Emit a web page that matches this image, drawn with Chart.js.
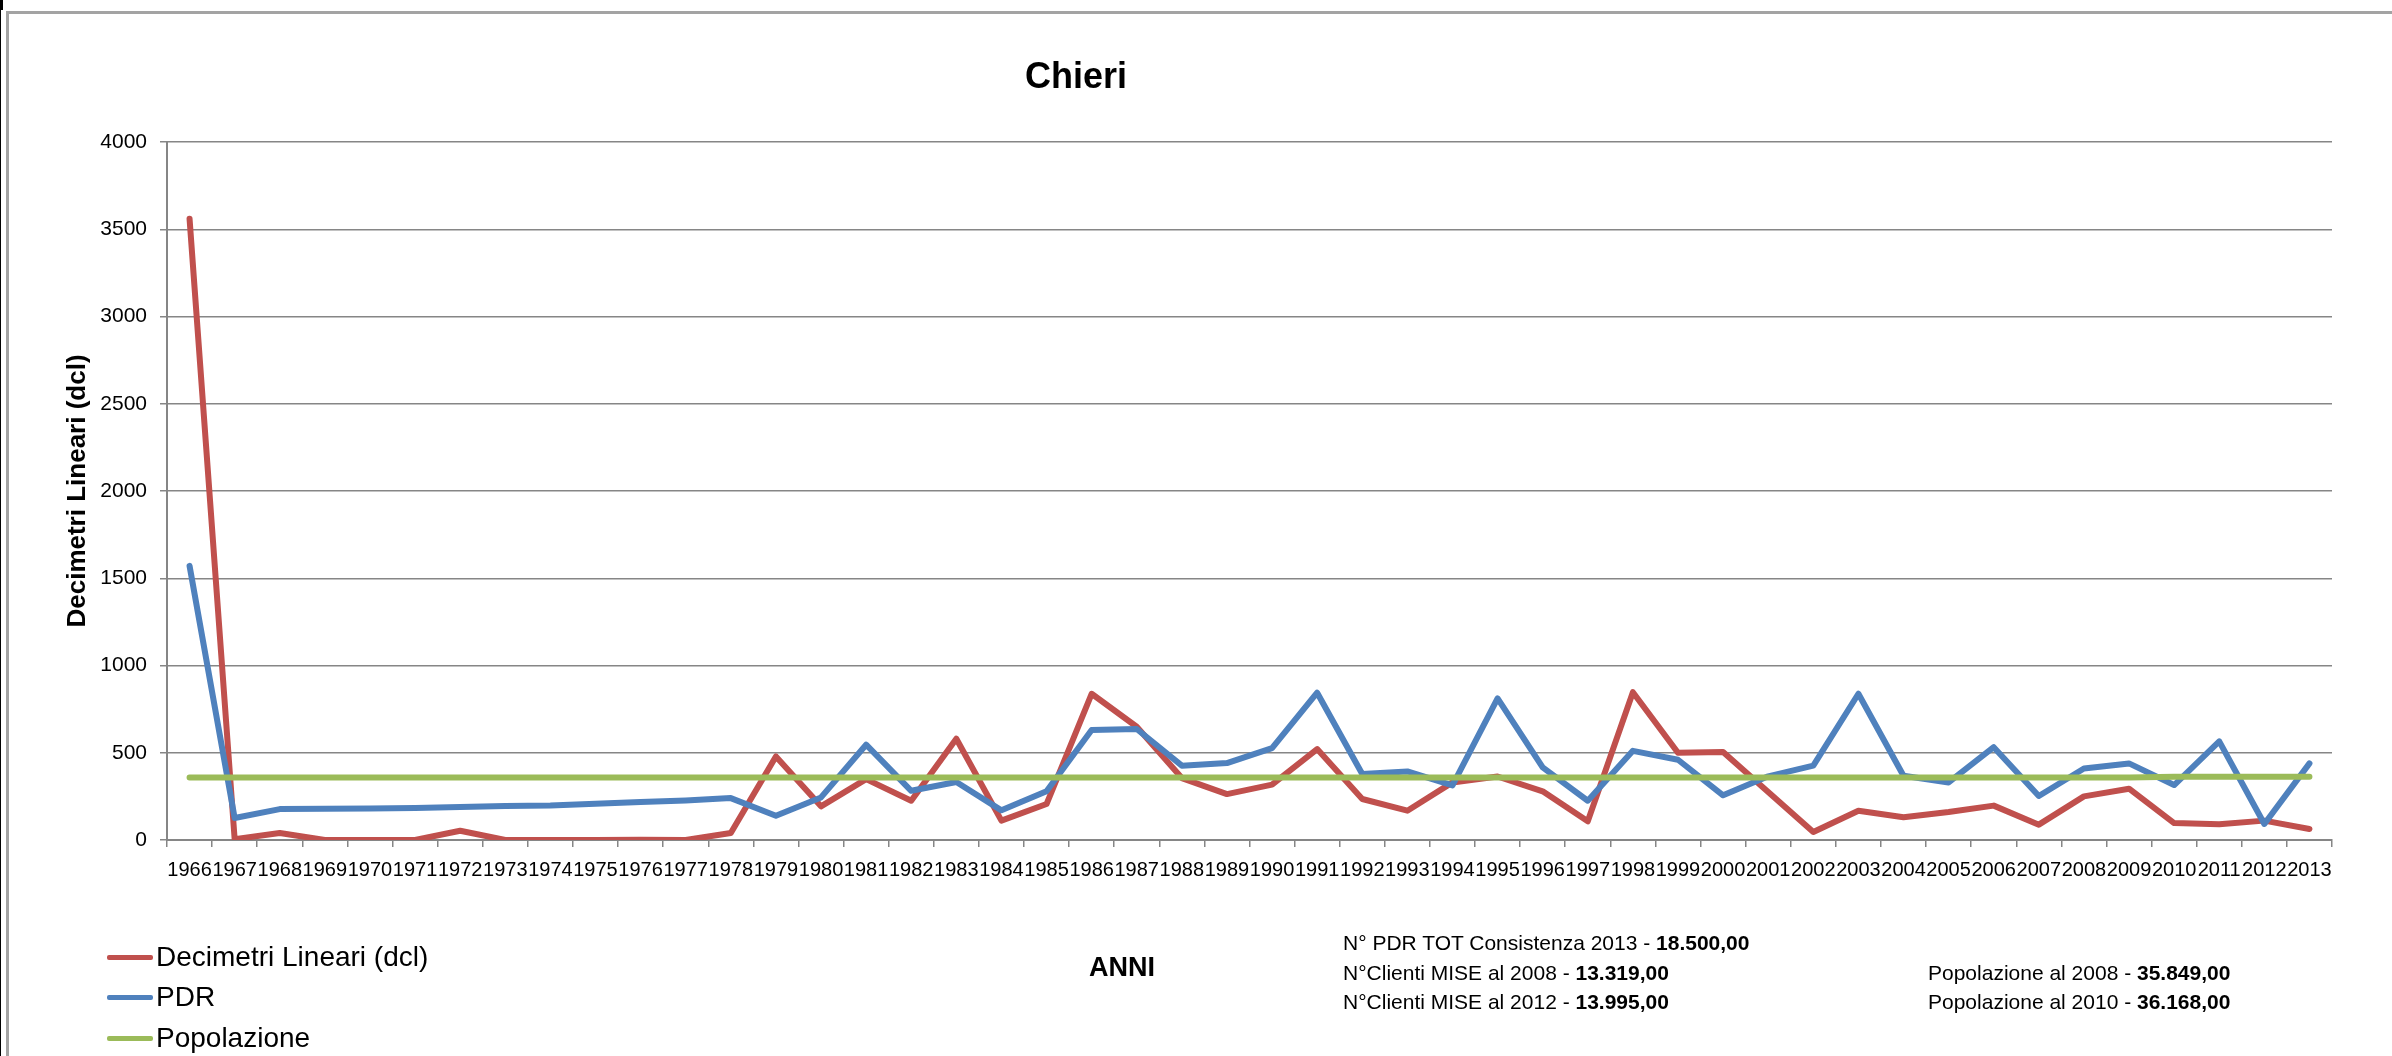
<!DOCTYPE html>
<html>
<head>
<meta charset="utf-8">
<script src="https://cdn.jsdelivr.net/npm/chart.js@4.4.1/dist/chart.umd.min.js"></script>
<style>
  html, body { margin: 0; padding: 0; background: #fff; }
  #wrap { position: relative; width: 2392px; height: 1056px; overflow: hidden; font-family: "Liberation Sans", Arial, sans-serif; color: #000; }
  #c { position: absolute; left: 0; top: 0; }
  .abs { position: absolute; white-space: nowrap; }
  .vc { transform: translateY(-50%); }
  #frameTop { position: absolute; left: 6px; top: 11px; width: 2386px; height: 0; border-top: 3px solid #a3a3a3; }
  #frameLeft { position: absolute; left: 6px; top: 11px; width: 0; height: 1045px; border-left: 3px solid #a3a3a3; }
  #edge { position: absolute; left: 0; top: 0; width: 1px; height: 1056px; background: #000; }
  #edge2 { position: absolute; left: 0; top: 0; width: 3px; height: 10px; background: #000; }
  .leg { position: absolute; left: 107px; height: 0; }
  .leg .sw { position: absolute; left: 0; top: -2px; width: 46px; height: 5px; border-radius: 2px; }
  .leg .tx { position: absolute; left: 49px; top: 0; transform: translateY(-50%); font-size: 28px; white-space: nowrap; }
  .note { font-size: 21px; }
</style>
</head>
<body>
<div id="wrap">
  <canvas id="c" width="2392" height="1056"></canvas>
  <div id="frameTop"></div>
  <div id="frameLeft"></div>
  <div id="edge"></div>
  <div id="edge2"></div>
  <div id="title" class="abs" style="left:1076px; top:76px; transform:translate(-50%,-50%); font-size:36px; font-weight:bold;">Chieri</div>
  <div id="xtitle" class="abs" style="left:1122px; top:967px; transform:translate(-50%,-50%); font-size:27px; font-weight:bold;">ANNI</div>
  <div id="legend"></div>
  <div class="abs vc note" style="left:1343px; top:943px;">N° PDR TOT Consistenza 2013 - <b>18.500,00</b></div>
  <div class="abs vc note" style="left:1343px; top:973px;">N°Clienti MISE al 2008 - <b>13.319,00</b></div>
  <div class="abs vc note" style="left:1343px; top:1002px;">N°Clienti MISE al 2012 - <b>13.995,00</b></div>
  <div class="abs vc note" style="left:1928px; top:973px;">Popolazione al 2008 - <b>35.849,00</b></div>
  <div class="abs vc note" style="left:1928px; top:1002px;">Popolazione al 2010 - <b>36.168,00</b></div>
</div>
<script>
const years = ["1966","1967","1968","1969","1970","1971","1972","1973","1974","1975","1976","1977","1978","1979","1980","1981","1982","1983","1984","1985","1986","1987","1988","1989","1990","1991","1992","1993","1994","1995","1996","1997","1998","1999","2000","2001","2002","2003","2004","2005","2006","2007","2008","2009","2010","2011","2012","2013"];

const decimetri = [3560,5,40,0,0,0,53,0,0,0,2,0,40,479,193,349,225,580,111,206,838,649,355,263,317,521,235,168,330,364,279,107,847,500,504,275,46,168,130,160,197,88,250,294,97,90,111,63];

const pdr = [1571,126,177,179,181,183,189,195,198,208,218,227,240,139,244,546,282,332,170,279,630,636,426,441,527,844,378,393,313,811,416,225,511,460,256,365,426,838,368,330,532,252,410,439,315,565,92,439];

const popolazione = [358,358,358,358,358,358,358,358,358,358,358,358,358,358,358,358,358,358,358,358,358,358,358,358,358,358,358,358,358,358,358,358,358,358,358,358,358,358,358,358,358,358,358,358,362,362,362,362];

const yTicks = [0,500,1000,1500,2000,2500,3000,3500,4000];

const seriesNames = ["Decimetri Lineari (dcl)", "PDR", "Popolazione"];
const seriesColors = ["#C0504D", "#4F81BD", "#9BBB59"];

const FONT = "'Liberation Sans', Arial, sans-serif";
const gridColor = "#868686";

const datasets = [decimetri, pdr, popolazione].map((d, i) => ({
  label: seriesNames[i],
  data: d,
  borderColor: seriesColors[i],
  backgroundColor: seriesColors[i],
  borderWidth: 6,
  pointRadius: 0,
  pointHoverRadius: 0,
  tension: 0,
  fill: false,
  borderJoinStyle: 'round',
  borderCapStyle: 'round',
  order: 2 - i
}));

new Chart(document.getElementById('c'), {
  type: 'line',
  data: { labels: years, datasets: datasets },
  options: {
    responsive: false,
    devicePixelRatio: 1,
    animation: false,
    events: [],
    layout: { padding: { left: 0, right: 60, top: 142, bottom: 156 } },
    plugins: {
      legend: { display: false },
      title: { display: false },
      tooltip: { enabled: false }
    },
    scales: {
      x: {
        type: 'category',
        offset: true,
        grid: { display: true, offset: true, drawOnChartArea: false, drawTicks: true, tickLength: 7, color: gridColor, lineWidth: 1.5 },
        border: { display: true, color: gridColor, width: 2 },
        ticks: { font: { family: FONT, size: 20 }, color: '#000', padding: 11, maxRotation: 0, minRotation: 0, autoSkip: false },
        afterFit: (s) => { s.height = 60; }
      },
      y: {
        min: 0,
        max: 4000,
        afterBuildTicks: (s) => { s.ticks = yTicks.map(v => ({ value: v })); },
        grid: { display: true, drawTicks: true, tickLength: 7, color: gridColor, lineWidth: 1.5 },
        border: { display: true, color: gridColor, width: 2 },
        ticks: { font: { family: FONT, size: 21 }, color: '#000', padding: 13, callback: (v) => String(v) },
        title: { display: true, text: 'Decimetri Lineari (dcl)', font: { family: FONT, size: 26, weight: 'bold' }, color: '#000', padding: { top: 62, bottom: 0 } },
        afterFit: (s) => { s.width = 167; }
      }
    }
  }
});

// HTML legend built from the series definitions
const legendRows = [957, 997, 1038];
const legendEl = document.getElementById('legend');
seriesNames.forEach((name, i) => {
  const row = document.createElement('div');
  row.className = 'leg';
  row.style.top = legendRows[i] + 'px';
  const sw = document.createElement('div');
  sw.className = 'sw';
  sw.style.background = seriesColors[i];
  const tx = document.createElement('div');
  tx.className = 'tx';
  tx.textContent = name;
  row.appendChild(sw);
  row.appendChild(tx);
  legendEl.appendChild(row);
});
</script>
</body>
</html>
